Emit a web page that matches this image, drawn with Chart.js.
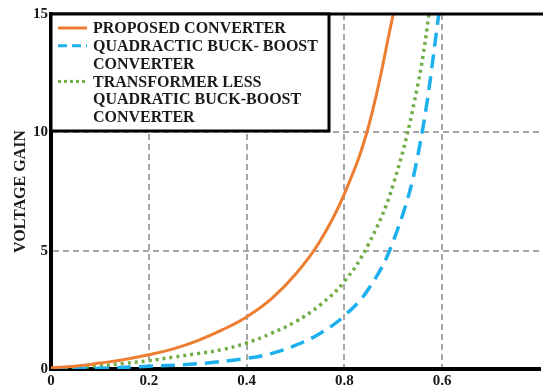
<!DOCTYPE html>
<html>
<head>
<meta charset="utf-8">
<script src="https://cdn.jsdelivr.net/npm/chart.js@4/dist/chart.umd.min.js"></script>
<style>
  html, body { margin: 0; padding: 0; background: #fff; }
  #wrap { width: 543px; height: 389px; position: relative; }
</style>
</head>
<body>
<div id="wrap"><canvas id="gainChart" width="543" height="389"></canvas></div>
<script>
// duty cycle vs voltage gain for the three converters
const proposedD    = [0, 0.05, 0.1, 0.15, 0.2, 0.25, 0.3, 0.35, 0.4, 0.45, 0.5, 0.55, 0.6, 0.65, 0.7];
const proposedGain = [0.05, 0.12, 0.25, 0.4, 0.6, 0.85, 1.2, 1.65, 2.2, 2.95, 4.0, 5.4, 7.4, 10.3, 15.0];

const quadD    = [0, 0.1, 0.2, 0.3, 0.4, 0.45, 0.5, 0.55, 0.6, 0.65, 0.7, 0.75, 0.8];
const quadGain = [0, 0.03, 0.12, 0.22, 0.45, 0.65, 1.0, 1.5, 2.25, 3.4, 5.4, 9.0, 16.0];

const tlessD    = [0, 0.05, 0.1, 0.15, 0.2, 0.25, 0.3, 0.35, 0.4, 0.45, 0.5, 0.55, 0.6, 0.65, 0.7, 0.75, 0.78];
const tlessGain = [0, 0.06, 0.13, 0.24, 0.35, 0.5, 0.65, 0.82, 1.1, 1.5, 2.0, 2.7, 3.7, 5.3, 7.8, 12.0, 16.0];

const xTickValues = [0, 0.2, 0.4, 0.6, 0.8, 1];
const xTickLabels = ['0', '0.2', '0.4', '0.8', '0.6', ''];
const yTickLabels = ['0', '5', '10', '15'];

const legendLines = [
  { label: ['PROPOSED CONVERTER'], color: '#ed7d31', dash: [] },
  { label: ['QUADRACTIC BUCK- BOOST', 'CONVERTER'], color: '#1cb0ee', dash: [9, 5] },
  { label: ['TRANSFORMER LESS', 'QUADRATIC BUCK-BOOST', 'CONVERTER'], color: '#70ad47', dash: [3, 3] }
];

const serif = '"Liberation Serif", "Times New Roman", serif';

function toPoints(xs, ys) {
  return xs.map((x, i) => ({ x: x, y: ys[i] }));
}

// top frame line + boxed legend drawn on top of the plot
const frameAndLegend = {
  id: 'frameAndLegend',
  afterDraw(chart) {
    const ctx = chart.ctx;
    const area = chart.chartArea;
    ctx.save();
    ctx.strokeStyle = '#000';
    ctx.lineWidth = 3;
    ctx.beginPath();
    ctx.moveTo(area.left - 2, area.top);
    ctx.lineTo(chart.width, area.top);
    ctx.stroke();

    const bx = 51, by = 14, bw = 278, bh = 117;
    ctx.fillStyle = '#fff';
    ctx.fillRect(bx, by, bw, bh);
    ctx.lineWidth = 3;
    ctx.strokeRect(bx, by, bw, bh);

    ctx.font = 'bold 16px ' + serif;
    ctx.fillStyle = '#1a1a1a';
    ctx.textBaseline = 'middle';
    let row = 0;
    legendLines.forEach(item => {
      const y = 28 + row * 17.8;
      ctx.strokeStyle = item.color;
      ctx.lineWidth = 3;
      ctx.setLineDash(item.dash);
      ctx.beginPath();
      ctx.moveTo(58, y);
      ctx.lineTo(87, y);
      ctx.stroke();
      ctx.setLineDash([]);
      item.label.forEach(txt => {
        ctx.fillText(txt, 93, 28 + row * 17.8 + 1);
        row++;
      });
    });
    ctx.restore();
  }
};

const gridColor = (ctx, max) => {
  const v = ctx.tick ? ctx.tick.value : null;
  return (v === 0 || v === max) ? 'rgba(0,0,0,0)' : '#a6a6a6';
};

new Chart(document.getElementById('gainChart'), {
  type: 'line',
  data: {
    datasets: [
      {
        label: 'PROPOSED CONVERTER',
        data: toPoints(proposedD, proposedGain),
        borderColor: '#ed7d31',
        borderWidth: 3
      },
      {
        label: 'QUADRACTIC BUCK- BOOST CONVERTER',
        data: toPoints(quadD, quadGain),
        borderColor: '#1cb0ee',
        borderWidth: 3.5,
        borderDash: [14, 8]
      },
      {
        label: 'TRANSFORMER LESS QUADRATIC BUCK-BOOST CONVERTER',
        data: toPoints(tlessD, tlessGain),
        borderColor: '#70ad47',
        borderWidth: 3.5,
        borderDash: [3, 4]
      }
    ]
  },
  options: {
    responsive: false,
    animation: false,
    devicePixelRatio: 1,
    layout: { padding: { top: 14, right: 0, left: 0, bottom: 0 } },
    elements: {
      point: { radius: 0 },
      line: { tension: 0.4, fill: false }
    },
    plugins: { legend: { display: false }, tooltip: { enabled: false } },
    scales: {
      x: {
        type: 'linear',
        min: 0,
        max: 1,
        afterBuildTicks: axis => { axis.ticks = xTickValues.map(v => ({ value: v })); },
        afterFit: axis => { axis.height = 20; },
        ticks: {
          padding: 3,
          maxRotation: 0,
          color: '#1a1a1a',
          font: { family: serif, size: 15, weight: 'bold' },
          callback: v => xTickLabels[xTickValues.indexOf(Math.round(v * 10) / 10)]
        },
        grid: { color: c => gridColor(c, 1), lineWidth: 2, drawTicks: false },
        border: { color: '#000', width: 4, dash: [6, 4] }
      },
      y: {
        min: 0,
        max: 15,
        afterBuildTicks: axis => { axis.ticks = yTickLabels.map(v => ({ value: Number(v) })); },
        afterFit: axis => { axis.width = 51; },
        ticks: {
          padding: 3,
          color: '#1a1a1a',
          font: { family: serif, size: 15, weight: 'bold' }
        },
        title: {
          display: true,
          text: 'VOLTAGE GAIN',
          color: '#1a1a1a',
          padding: { top: 11, bottom: 0 },
          font: { family: serif, size: 16, weight: 'bold' }
        },
        grid: { color: c => gridColor(c, 15), lineWidth: 2, drawTicks: false },
        border: { color: '#000', width: 4, dash: [6, 4] }
      }
    }
  },
  plugins: [frameAndLegend]
});
</script>
</body>
</html>
